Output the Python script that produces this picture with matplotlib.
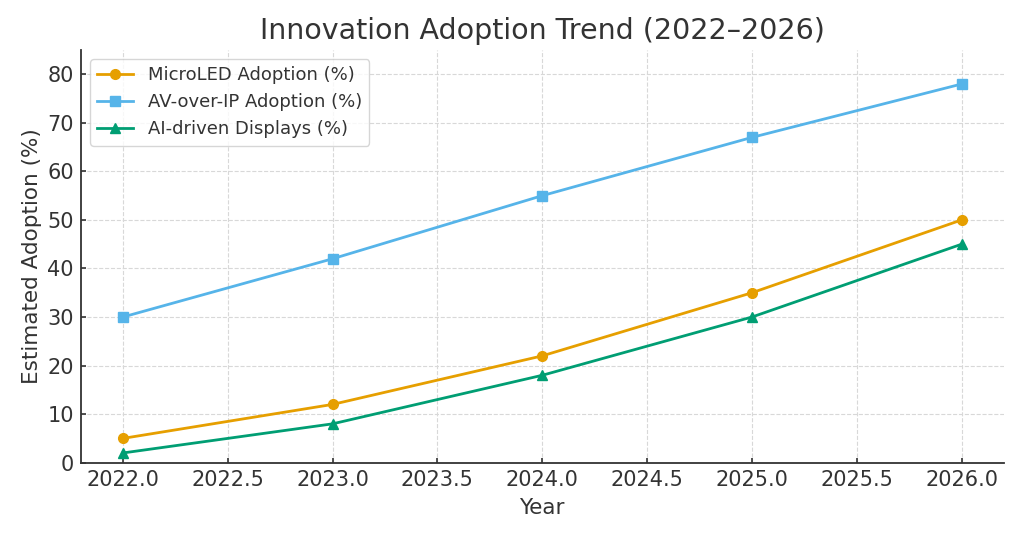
import matplotlib
matplotlib.use("Agg")
from matplotlib import pyplot as plt

years = [2022, 2023, 2024, 2025, 2026]
microled = [5, 12, 22, 35, 50]
av_over_ip = [30, 42, 55, 67, 78]
ai_displays = [2, 8, 18, 30, 45]

txt = "#333333"
plt.rcParams["text.color"] = txt
plt.rcParams["axes.labelcolor"] = txt
plt.rcParams["xtick.color"] = txt
plt.rcParams["ytick.color"] = txt

fig = plt.figure(figsize=(10.24, 5.38), dpi=100)
ax = fig.add_subplot(1, 1, 1)
ax.plot(years, microled, marker="o", color="#E69F00", linewidth=2, markersize=7, label="MicroLED Adoption (%)")
ax.plot(years, av_over_ip, marker="s", color="#56B4E9", linewidth=2, markersize=7, label="AV-over-IP Adoption (%)")
ax.plot(years, ai_displays, marker="^", color="#009E73", linewidth=2, markersize=7, label="AI-driven Displays (%)")

ax.set_ylim(0, 85)
ax.set_title("Innovation Adoption Trend (2022\u20132026)", fontsize=20.5, color=txt, pad=8)
ax.set_xlabel("Year", fontsize=15.5, labelpad=6)
ax.set_ylabel("Estimated Adoption (%)", fontsize=15.5)
ax.tick_params(direction="in", labelsize=15, width=1.2, pad=5)
ax.grid(True, linestyle="--", color="#d8d8d8", linewidth=0.8)
for s in ["top", "right"]:
    ax.spines[s].set_visible(False)
for s in ["left", "bottom"]:
    ax.spines[s].set_linewidth(1.3)
    ax.spines[s].set_color("#333333")
ax.legend(loc="upper left", fontsize=13)
fig.subplots_adjust(left=0.079, right=0.98, top=0.907, bottom=0.14)
fig.savefig("out.png", dpi=100)
